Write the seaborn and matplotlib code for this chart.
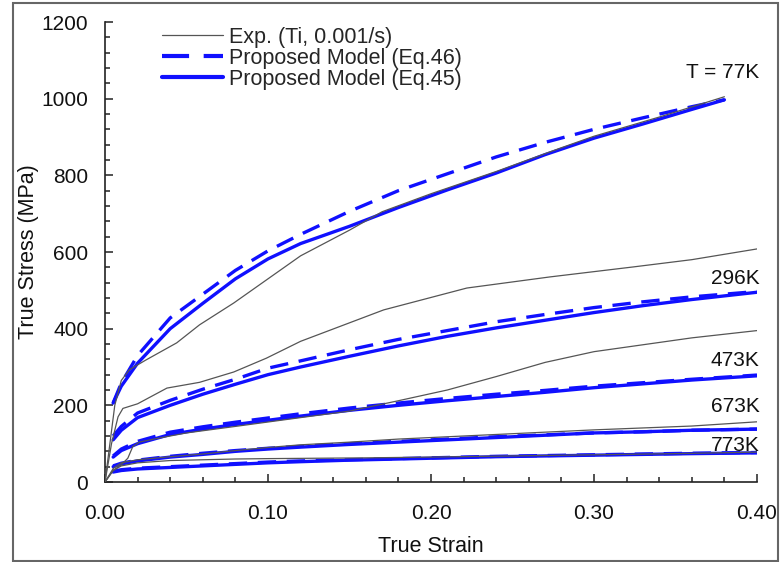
import numpy as np
import pandas as pd
import matplotlib
matplotlib.use("Agg")
import matplotlib.pyplot as plt
from matplotlib.lines import Line2D
from matplotlib.patches import Rectangle
import seaborn as sns

sns.set_theme(style="ticks")
plt.rcParams['font.family'] = ['Liberation Sans', 'DejaVu Sans']

# ---- model strain grids ----
strain_77 = [0.005, 0.01, 0.02, 0.04, 0.06, 0.08, 0.10, 0.12, 0.15, 0.18, 0.21, 0.24, 0.27, 0.30, 0.33, 0.36, 0.38]
strain_m = [0.005, 0.01, 0.02, 0.04, 0.06, 0.08, 0.10, 0.12, 0.15, 0.18, 0.21, 0.24, 0.27, 0.30, 0.33, 0.36, 0.40]

# ---- Proposed model (Eq.45, solid) ----
eq45_77 = [206, 250, 310, 400, 466, 530, 582, 622, 667, 716, 762, 806, 854, 897, 934, 972, 997]
eq45_296 = [110, 135, 168, 200, 229, 255, 280, 300, 328, 355, 380, 402, 422, 442, 460, 476, 495]
eq45_473 = [65, 82, 100, 124, 138, 150, 161, 172, 187, 200, 212, 223, 234, 246, 256, 266, 277]
eq45_673 = [40, 47, 55, 65, 72, 80, 86, 91, 98, 104, 110, 116, 122, 128, 131, 135, 138]
eq45_773 = [26, 30, 34, 38, 42, 46, 50, 53, 57, 60, 63, 66, 68, 70, 72, 74, 76]

# ---- Proposed model (Eq.46, dashed) ----
eq46_77 = [206, 258, 330, 428, 490, 552, 603, 646, 706, 760, 804, 848, 886, 920, 950, 979, 997]
eq46_296 = [120, 145, 180, 213, 242, 268, 297, 316, 345, 372, 395, 418, 437, 455, 470, 483, 497]
eq46_473 = [68, 86, 106, 130, 144, 156, 167, 178, 193, 206, 218, 229, 239, 250, 259, 268, 279]
eq46_673 = [42, 49, 57, 67, 75, 82, 88, 93, 100, 106, 112, 118, 123, 128, 131, 135, 138]
eq46_773 = [28, 32, 36, 40, 44, 48, 52, 55, 58, 61, 64, 67, 69, 71, 73, 75, 77]

# ---- Experimental (Ti, 0.001/s) ----
exp_strain_77 = [0, 0.003, 0.006, 0.01, 0.015, 0.025, 0.044, 0.058, 0.079, 0.099, 0.12, 0.15, 0.17, 0.20, 0.24, 0.28, 0.30, 0.34, 0.38]
exp_77 = [0, 100, 200, 265, 293, 318, 363, 410, 467, 527, 590, 657, 705, 752, 810, 872, 902, 952, 1005]
exp_strain_296 = [0, 0.004, 0.008, 0.011, 0.02, 0.038, 0.058, 0.079, 0.099, 0.12, 0.171, 0.222, 0.273, 0.324, 0.36, 0.40]
exp_296 = [0, 100, 170, 192, 204, 245, 260, 287, 323, 367, 449, 506, 535, 561, 580, 608]
exp_strain_473 = [0, 0.005, 0.01, 0.014, 0.017, 0.021, 0.03, 0.05, 0.08, 0.12, 0.15, 0.18, 0.21, 0.24, 0.27, 0.30, 0.33, 0.36, 0.40]
exp_473 = [0, 30, 45, 62, 92, 104, 112, 128, 145, 168, 185, 212, 240, 275, 312, 340, 358, 376, 395]
exp_strain_673 = [0, 0.005, 0.01, 0.02, 0.04, 0.06, 0.08, 0.10, 0.12, 0.15, 0.18, 0.21, 0.24, 0.27, 0.30, 0.33, 0.36, 0.40]
exp_673 = [0, 35, 50, 58, 66, 73, 82, 90, 97, 104, 112, 118, 124, 130, 136, 141, 146, 157]
exp_strain_773 = [0, 0.005, 0.01, 0.02, 0.04, 0.06, 0.08, 0.10, 0.13, 0.16, 0.20, 0.25, 0.30, 0.35, 0.40]
exp_773 = [0, 30, 42, 50, 56, 58, 60, 61, 62, 63, 65, 68, 71, 74, 78]

temp_labels = ["T = 77K", "296K", "473K", "673K", "773K"]
temp_label_y = [1067, 532, 318, 196, 96]

legend_labels = ["Exp. (Ti, 0.001/s)", "Proposed Model (Eq.46)", "Proposed Model (Eq.45)"]

BLUE = "#1010ff"
GRAY = "#555555"
LW_M = 2.4
DASH = (5.5, 3.2)

fig = plt.figure(figsize=(7.81, 5.62), dpi=100)
ax = fig.add_axes([105/781, 1-482/562, 652/781, 460/562])

exp_sets = [(exp_strain_77, exp_77), (exp_strain_296, exp_296), (exp_strain_473, exp_473),
            (exp_strain_673, exp_673), (exp_strain_773, exp_773)]
eq45_sets = [(strain_77, eq45_77), (strain_m, eq45_296), (strain_m, eq45_473), (strain_m, eq45_673), (strain_m, eq45_773)]
eq46_sets = [(strain_77, eq46_77), (strain_m, eq46_296), (strain_m, eq46_473), (strain_m, eq46_673), (strain_m, eq46_773)]

for xs, ys in exp_sets:
    sns.lineplot(x=xs, y=ys, ax=ax, color=GRAY, lw=0.9, sort=False, estimator=None, zorder=3)
for xs, ys in eq46_sets:
    l = sns.lineplot(x=xs, y=ys, ax=ax, color=BLUE, lw=LW_M, sort=False, estimator=None, zorder=2)
    l.lines[-1].set_dashes(DASH)
for xs, ys in eq45_sets:
    sns.lineplot(x=xs, y=ys, ax=ax, color=BLUE, lw=LW_M, sort=False, estimator=None, zorder=2)

for lab, yv in zip(temp_labels, temp_label_y):
    ax.text(0.4015, yv, lab, ha='right', va='center', fontsize=15, color='#111111')

ax.set_xlim(0, 0.40)
ax.set_ylim(0, 1200)
ax.set_xticks(np.arange(0, 0.41, 0.10))
ax.set_xticks(np.arange(0, 0.401, 0.02), minor=True)
ax.set_yticks(np.arange(0, 1201, 200))
ax.set_yticks(np.arange(0, 1201, 40), minor=True)
ax.xaxis.set_major_formatter(matplotlib.ticker.FormatStrFormatter('%.2f'))
ax.tick_params(axis='both', which='major', direction='in', length=5.5, width=1.1, colors='#222222',
               labelsize=15, labelcolor='#111111')
ax.tick_params(axis='both', which='minor', direction='in', length=3.8, width=1.1, colors='#222222')
ax.tick_params(axis='x', which='both', bottom=True, top=False, pad=16)
ax.tick_params(axis='y', which='both', left=True, right=False, pad=12)
ax.set_xlabel("True Strain", fontsize=15.5, color='#111111', labelpad=9)
ax.set_ylabel("True Stress (MPa)", fontsize=15.5, color='#111111', labelpad=2)
for s in ['top', 'right']:
    ax.spines[s].set_visible(False)
for s in ['left', 'bottom']:
    ax.spines[s].set_color('#222222')
    ax.spines[s].set_linewidth(1.2)

handles = [Line2D([], [], color=GRAY, lw=0.9),
           Line2D([], [], color=BLUE, lw=3, dashes=(6.5, 3.5)),
           Line2D([], [], color=BLUE, lw=3)]
ax.legend(handles, legend_labels, loc='upper left', bbox_to_anchor=(0.088, 0.99), frameon=False,
          fontsize=15.5, handlelength=2.8, handletextpad=0.3, labelspacing=0.0, borderpad=0,
          borderaxespad=0)

fig.patches.append(Rectangle((13/781, 1-561/562), 765/781, 558/562, transform=fig.transFigure,
                             fill=False, edgecolor='#666666', lw=1.5))

fig.savefig("out.png", dpi=100)
